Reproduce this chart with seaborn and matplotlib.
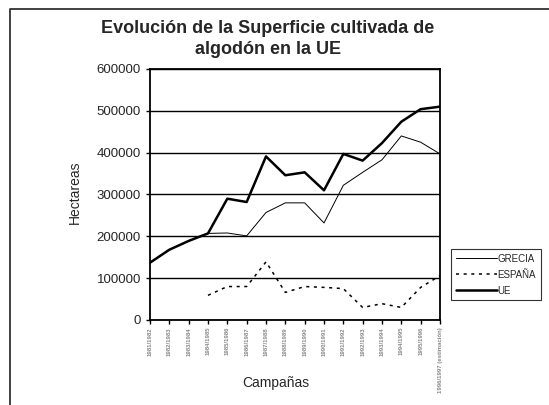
import pandas as pd
import numpy as np
import matplotlib.pyplot as plt
import seaborn as sns
from matplotlib.lines import Line2D

# datos
campanas = ['1981/1982', '1982/1983', '1983/1984', '1984/1985', '1985/1986',
            '1986/1987', '1987/1988', '1988/1989', '1989/1990', '1990/1991',
            '1991/1992', '1992/1993', '1993/1994', '1994/1995', '1995/1996',
            '1996/1997 (estimación)']
grecia = [137000, 168000, 189000, 207000, 208000, 201000, 257000, 280000,
          280000, 232000, 322000, 353000, 383000, 440000, 425000, 397000]
espana = [np.nan, np.nan, np.nan, 59000, 80000, 80000, 139000, 66000,
          80000, 78000, 75000, 30000, 39000, 30000, 78000, 106000]
ue = [137000, 168000, 189000, 207000, 290000, 282000, 391000, 346000,
      353000, 310000, 397000, 381000, 423000, 474000, 504000, 510000]

df = pd.DataFrame({'x': np.arange(len(campanas)), 'GRECIA': grecia,
                   'ESPAÑA': espana, 'UE': ue})

sns.set_style('white')
plt.rcParams['font.family'] = ['Liberation Sans', 'DejaVu Sans']

fig = plt.figure(figsize=(5.49, 4.05), dpi=100)
ax = fig.add_axes([150/549, 1-320/405, 290/549, 251/405])

sns.lineplot(data=df, x='x', y='GRECIA', ax=ax, color='black', linewidth=0.7, label='GRECIA')
sns.lineplot(data=df.dropna(), x='x', y='ESPAÑA', ax=ax, color='black', linewidth=1.1,
             linestyle=(0, (2, 3)), label='ESPAÑA')
sns.lineplot(data=df, x='x', y='UE', ax=ax, color='black', linewidth=1.8, label='UE')

ax.set_xlim(0, len(campanas) - 1)
ax.set_ylim(0, 600000)
ax.set_yticks(range(0, 600001, 100000))
ax.set_yticklabels([str(v) for v in range(0, 600001, 100000)], fontsize=9.5)
ax.set_xticks(df['x'])
ax.set_xticklabels(campanas, rotation=90, fontsize=4.3, color='#888888', fontweight='bold')
ax.yaxis.grid(True, color='black', linewidth=1)
ax.set_axisbelow(True)
ax.tick_params(axis='both', direction='out', length=3, width=1, color='black',
               left=True, bottom=True)
ax.tick_params(axis='x', pad=2)
for s in ax.spines.values():
    s.set_color('black')
    s.set_linewidth(1.3)
ax.set_xlabel('')
ax.set_ylabel('')
ax.get_legend().remove()

fig.text(75/549, 1-192/405, 'Hectareas', rotation=90, fontsize=10, ha='center', va='center')
fig.text(276/549, 1-383/405, 'Campañas', fontsize=10, ha='center', va='center')
fig.text(268/549, 1-39/405, 'Evolución de la Superficie cultivada de\nalgodón en la UE',
         fontsize=13, fontweight='bold', ha='center', va='center', linespacing=1.25)

handles, labels = ax.get_legend_handles_labels()
leg = fig.legend(handles, labels, loc='upper left', bbox_to_anchor=(451/549, 1-249/405),
                 fontsize=7, frameon=True, fancybox=False, handlelength=4.2,
                 handletextpad=0.1, borderpad=0.5, labelspacing=0.6, borderaxespad=0)
leg.get_frame().set_edgecolor('black')
leg.get_frame().set_linewidth(0.8)

# marco del grafico
fig.add_artist(Line2D([10/549, 10/549, 1], [0, 1-9/405, 1-9/405], transform=fig.transFigure,
                      color='#333333', linewidth=1.3))

fig.savefig('out.png', dpi=100)
